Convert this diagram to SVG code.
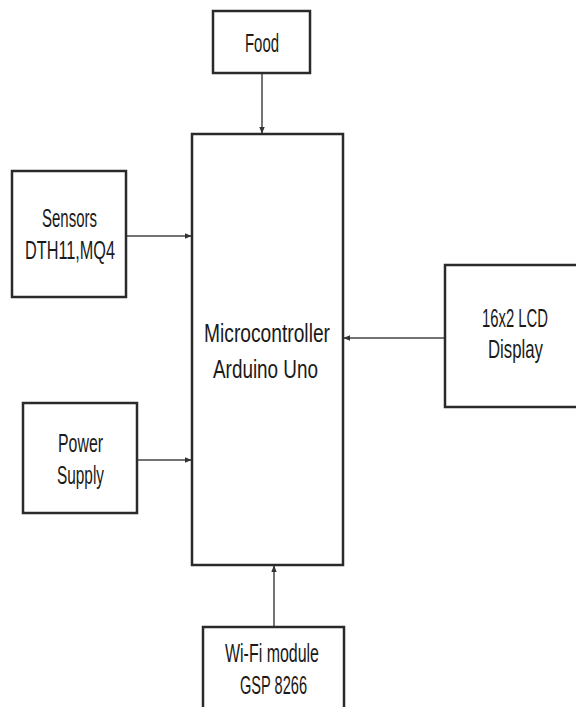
<svg xmlns="http://www.w3.org/2000/svg" width="576" height="707" viewBox="0 0 576 707">
<style>
.box{fill:#fff;stroke:#2a2a2a;stroke-width:2.5}
.lbl{font-family:"Liberation Sans Narrow","Liberation Sans",Arial,sans-serif;font-size:25px;fill:#1a1a1a;text-anchor:start}
.conn{stroke:#444;stroke-width:1.5;fill:none}
</style>
<defs>
<marker id="ah" viewBox="0 0 10 10" refX="9" refY="5" markerWidth="7" markerHeight="7" markerUnits="userSpaceOnUse" orient="auto">
<path d="M0,1 L10,5 L0,9 Z" fill="#333"/>
</marker>
</defs>
<rect width="576" height="707" fill="#fff"/>
<g id="connectors">
<line class="conn" x1="262" y1="73" x2="262" y2="133" marker-end="url(#ah)"/>
<line class="conn" x1="126" y1="236" x2="191" y2="236" marker-end="url(#ah)"/>
<line class="conn" x1="137" y1="460" x2="191" y2="460" marker-end="url(#ah)"/>
<line class="conn" x1="445" y1="338" x2="344" y2="338" marker-end="url(#ah)"/>
<line class="conn" x1="274" y1="627" x2="274" y2="566" marker-end="url(#ah)"/>
</g>
<g id="food">
<rect class="box" x="213" y="11" width="97" height="62"/>
<text class="lbl" x="245" y="52" textLength="34" lengthAdjust="spacingAndGlyphs">Food</text>
</g>
<g id="microcontroller">
<rect class="box" x="192" y="134" width="151" height="431"/>
<text class="lbl" x="204" y="342" textLength="126" lengthAdjust="spacingAndGlyphs">Microcontroller</text>
<text class="lbl" x="213" y="378" textLength="105" lengthAdjust="spacingAndGlyphs">Arduino Uno</text>
</g>
<g id="sensors">
<rect class="box" x="12" y="171" width="114" height="126"/>
<text class="lbl" x="42" y="227" textLength="55" lengthAdjust="spacingAndGlyphs">Sensors</text>
<text class="lbl" x="25" y="259" textLength="90" lengthAdjust="spacingAndGlyphs">DTH11,MQ4</text>
</g>
<g id="power">
<rect class="box" x="23" y="403" width="114" height="110"/>
<text class="lbl" x="58" y="452" textLength="45" lengthAdjust="spacingAndGlyphs">Power</text>
<text class="lbl" x="57" y="484" textLength="47" lengthAdjust="spacingAndGlyphs">Supply</text>
</g>
<g id="lcd">
<rect class="box" x="445" y="265" width="140" height="142"/>
<text class="lbl" x="482" y="327" textLength="66" lengthAdjust="spacingAndGlyphs">16x2 LCD</text>
<text class="lbl" x="488" y="358" textLength="55" lengthAdjust="spacingAndGlyphs">Display</text>
</g>
<g id="wifi">
<rect class="box" x="203" y="627" width="141" height="90"/>
<text class="lbl" x="225" y="662" textLength="94" lengthAdjust="spacingAndGlyphs">Wi-Fi module</text>
<text class="lbl" x="240" y="694" textLength="67" lengthAdjust="spacingAndGlyphs">GSP 8266</text>
</g>
</svg>
